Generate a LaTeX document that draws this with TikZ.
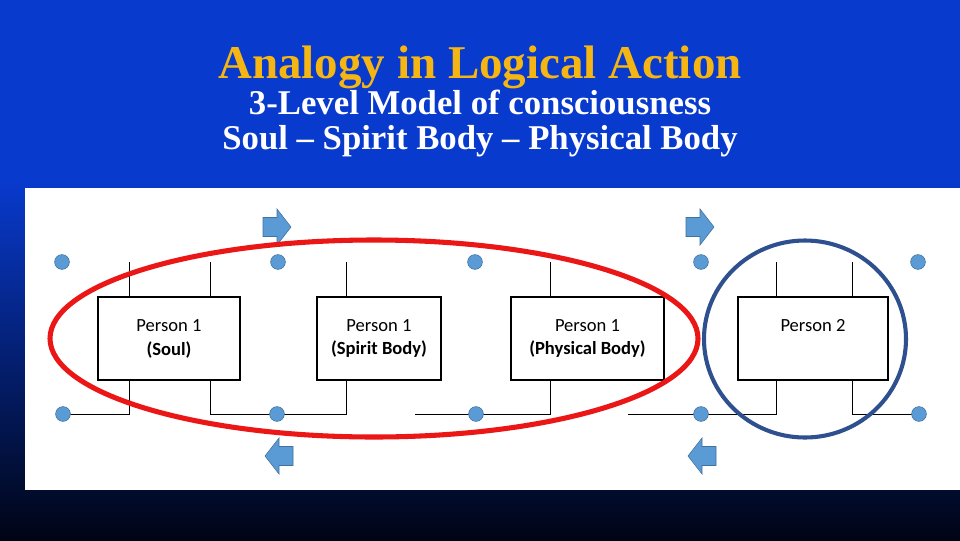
\documentclass[tikz,border=0pt]{standalone}
\usepackage{fontspec}
\setmainfont{Liberation Serif}
\newfontfamily\calibri{Carlito}
\usepackage{tikz}
\definecolor{slideblue}{RGB}{8,58,205}
\definecolor{slidenavy}{RGB}{3,24,90}
\definecolor{slideblack}{RGB}{0,4,20}
\definecolor{titlegold}{RGB}{245,182,20}
\definecolor{dotblue}{RGB}{91,155,213}
\definecolor{dotedge}{RGB}{65,113,156}
\definecolor{ringred}{RGB}{235,22,22}
\definecolor{ringblue}{RGB}{46,80,142}
\tikzstyle{bluedot}=[circle,draw=dotedge,fill=dotblue,line width=0.4pt,
                     inner sep=0pt,minimum size=0.37cm]
\tikzstyle{personbox}=[draw=black,fill=white,line width=0.9pt,inner sep=0pt,
                       minimum height=2.075cm,align=center,
                       font=\calibri\fontsize{13.2}{17}\selectfont]
\tikzstyle{wire}=[draw=black,line width=0.7pt]
\tikzstyle{flowarrow}=[draw=dotedge,fill=dotblue,line width=0.4pt]
\tikzstyle{headline}=[anchor=base,font=\bfseries\fontsize{24.7}{30}\selectfont,text=white]

\begin{document}
\begin{tikzpicture}[x=0.025cm,y=-0.025cm]
    \newcommand{\flowarr}[3]{\draw[flowarrow,shift={(#1,#2)},xscale=#3]
      (-14,-9.5) -- (0,-9.5) -- (0,-18) -- (14,0) -- (0,18) -- (0,9.5) -- (-14,9.5) -- cycle;}
    % slide background
    \useasboundingbox (0,0) rectangle (960,540);
    \fill[slideblue] (0,0) rectangle (960,540);
    \shade[top color=slideblue,middle color=slidenavy,bottom color=slideblack] (0,180) rectangle (960,540);
    \node (title) at (480,78) [headline,text=titlegold,font=\bfseries\fontsize{33.4}{40}\selectfont]
      {Analogy in Logical Action};
    \node (sub1) at (480,114) [headline]{3-Level Model of consciousness};
    \node (sub2) at (480,149) [headline]{Soul -- Spirit Body -- Physical Body};
    \fill[white] (25,188) rectangle (960,490);
    % terminals
    \coordinate (a1) at (129,262); \coordinate (a2) at (210,262);
    \coordinate (a3) at (346,262); \coordinate (a4) at (550,262);
    \coordinate (a5) at (776,262); \coordinate (a6) at (852,262);
    \coordinate (c1) at (129,414); \coordinate (c2) at (210,414);
    \coordinate (c3) at (346,414); \coordinate (c4) at (550,414);
    \coordinate (c5) at (776,414); \coordinate (c6) at (852,414);
    \coordinate (g1) at (415,414); \coordinate (g2) at (628,414);
    % persons
    \node (soul) at (169,338.5) [personbox,minimum width=3.55cm]{Person 1\\\textbf{(Soul)}};
    \node (spirit) at (379,338.5) [personbox,minimum width=3.1cm]{Person 1\\\textbf{(Spirit Body)}};
    \node (phys) at (587.5,338.5) [personbox,minimum width=3.825cm]{Person 1\\\textbf{(Physical Body)}};
    \node (other) at (813,338.5) [personbox,minimum width=3.75cm]{Person 2\\\vphantom{\textbf{(Soul)}}};
    % wires
    \draw[wire] (a1) -- (a1 |- soul.north) (a2) -- (a2 |- soul.north);
    \draw[wire] (a3) -- (a3 |- spirit.north) (a4) -- (a4 |- phys.north);
    \draw[wire] (a5) -- (a5 |- other.north) (a6) -- (a6 |- other.north);
    \draw[wire] (63,414) -- (c1) -- (c1 |- soul.south);
    \draw[wire] (c2 |- soul.south) -- (c2) -- (c3) -- (c3 |- spirit.south);
    \draw[wire] (g1) -- (c4) -- (c4 |- phys.south);
    \draw[wire] (g2) -- (c5) -- (c5 |- other.south);
    \draw[wire] (c6 |- other.south) -- (c6) -- (919,414);
    % dots
    \node (d1) at (62,262) [bluedot]{};
    \node (d2) at (278,262) [bluedot]{};
    \node (d3) at (475,262) [bluedot]{};
    \node (d4) at (701,262) [bluedot]{};
    \node (d5) at (918,262) [bluedot]{};
    \node (e1) at (63,414) [bluedot]{};
    \node (e2) at (277,414) [bluedot]{};
    \node (e3) at (476,414) [bluedot]{};
    \node (e4) at (701,414) [bluedot]{};
    \node (e5) at (919,414) [bluedot]{};
    % arrows
    \flowarr{277}{227}{1}
    \flowarr{700}{227}{1}
    \flowarr{279}{456}{-1}
    \flowarr{702}{456}{-1}
    % highlights
    \draw[ringred,line width=3.6pt] (374,338.5) ellipse [x radius=324,y radius=98.5];
    \draw[ringblue,line width=2.9pt] (805,339) ellipse [x radius=101,y radius=98.5];
\end{tikzpicture}
\end{document}
